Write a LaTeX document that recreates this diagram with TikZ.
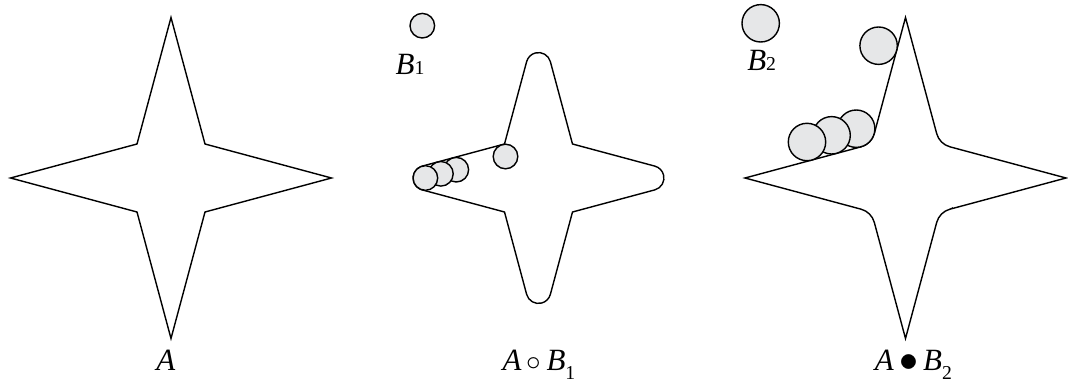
\documentclass[tikz,border=0pt]{standalone}
\usepackage{fontspec}
\setmainfont{Liberation Serif}
\usepackage{tikz}
\usetikzlibrary{calc}

\definecolor{discgray}{RGB}{230,231,232}
\newcommand{\subsz}{\fontsize{14}{14}\selectfont}

\begin{document}
\begin{tikzpicture}[
    x=0.025cm, y=0.025cm,
    outline/.style={line width=1pt, line join=miter},
    disc/.style={line width=1pt, fill=discgray},
    label/.style={font=\fontsize{22}{26}\selectfont, anchor=base, inner sep=0pt},
]
\useasboundingbox (0,0) rectangle (1068,383);

% === Centres of the three stars ===
\coordinate (cA) at (171, 205);
\coordinate (cO) at (538.5, 205);
\coordinate (cC) at (905.5, 205);

% === Left: the set A ===
\draw[outline] ($(cA)+(0:160.5)$)
    \foreach \ang in {45,135,225} {
        -- ($(cA)+(\ang:48.08)$) -- ($(cA)+(\ang+45:160.5)$)
    } -- ($(cA)+(315:48.08)$) -- cycle;

\node[label] (labA) at (166, 13) {\textit{A}};

% === Middle: opening by the small disc ===
\draw[outline] ($(cO)+(-5.83:116.93)$)
    \foreach \ang in {0,90,180,270} {
        arc[start angle=\ang-75, end angle=\ang+75, radius=12.3]
        -- ($(cO)+(\ang+45:48.08)$) -- ($(cO)+(\ang+84.17:116.93)$)
    } -- cycle;

% discs rolling inside
\draw[disc] (505.5, 226.5) circle[radius=12.3];
\draw[disc] (456.3, 213.3) circle[radius=12.3];
\draw[disc] (440.9, 209.2) circle[radius=12.3];
\draw[disc] (425.4, 205) circle[radius=12.3];

\draw[disc] (422.3, 357.3) circle[radius=12.3];
\node[label] (labB1) at (410, 308) {\textit{B}{\subsz 1}};

\node[label] (labO) at (539, 13)
    {\textit{A}\,$\circ$\,\textit{B}\raisebox{-0.3em}{\subsz 1}};

% === Right: closing by the large disc ===
\draw[outline] ($(cC)+(-35.09:54.27)$)
    \foreach \ang in {0,90,180,270} {
        -- ($(cC)+(\ang:160.5)$) -- ($(cC)+(\ang+35.09:54.27)$)
        arc[start angle=\ang+255, end angle=\ang+195, radius=18.7]
    } -- cycle;

% discs rolling outside
\draw[disc] (856.2, 254.3) circle[radius=18.7];
\draw[disc] (831.6, 247.7) circle[radius=18.7];
\draw[disc] (807, 241) circle[radius=18.7];
\draw[disc] (878.6, 337.3) circle[radius=18.7];

\draw[disc] (760.7, 359.7) circle[radius=18.7];
\node[label] (labB2) at (761.7, 312) {\textit{B}{\subsz 2}};

\node[label] (labC) at (913.4, 13)
    {\textit{A}\,\raisebox{-0.05em}{\scalebox{1.3}{$\bullet$}}\,\textit{B}\raisebox{-0.3em}{\subsz 2}};

\end{tikzpicture}
\end{document}
